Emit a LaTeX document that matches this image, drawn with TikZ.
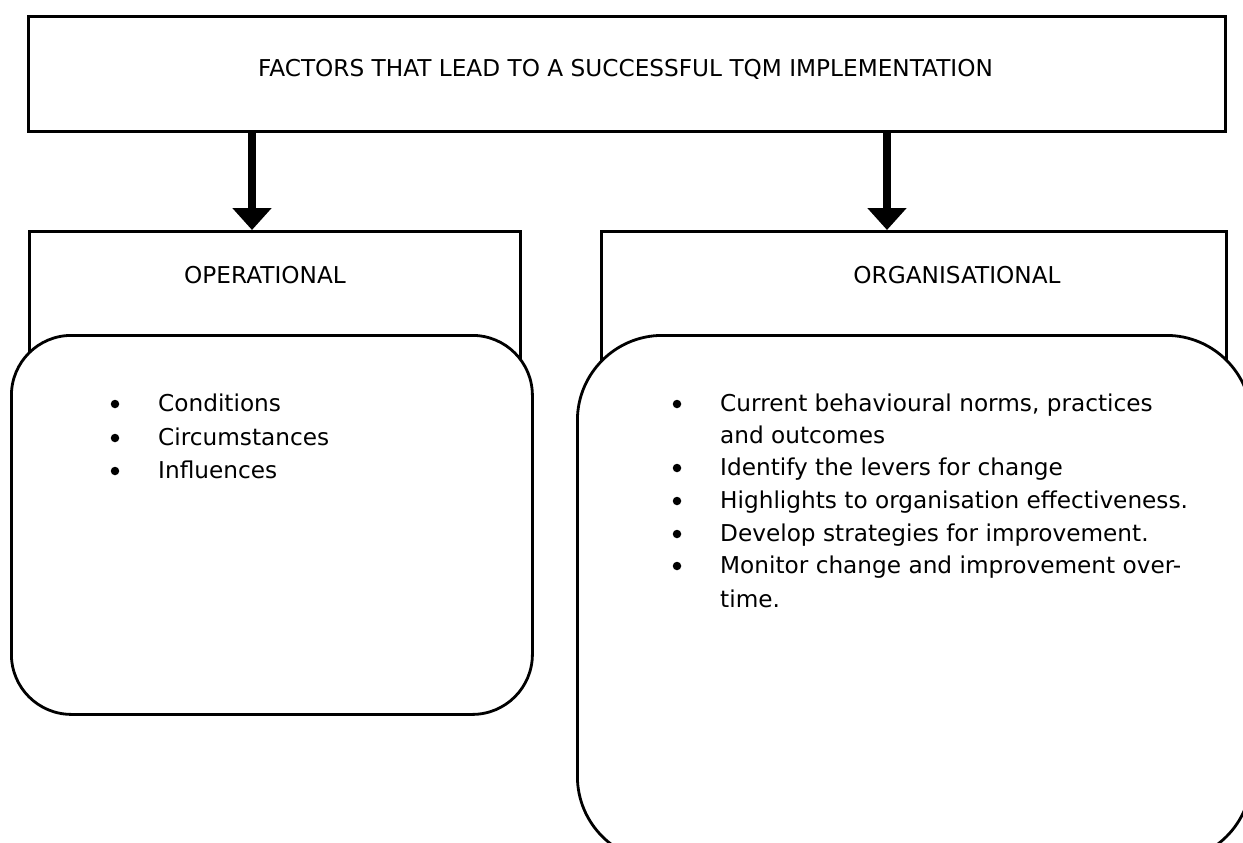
\documentclass[tikz,border=0pt]{standalone}
\usepackage{fontspec}
\setmainfont{DejaVu Sans}
\usetikzlibrary{arrows.meta}
\tikzset{
  x=1pt, y=-1pt,
  boxline/.style={draw=black, line width=2.8pt},
  squarebox/.style={boxline, fill=white, anchor=north west, inner sep=0pt},
  roundbox/.style={boxline, fill=white, anchor=north west, inner sep=0pt},
  txt/.style={anchor=base, inner sep=0pt, font=\fontsize{23.2}{33}\selectfont},
  item/.style={anchor=base west, inner sep=0pt, font=\fontsize{23.2}{33}\selectfont},
  bigarrow/.style={line width=7.8pt, -{Triangle[width=38pt,length=22pt]}},
  dot/.style={circle, fill=black, inner sep=0pt, minimum size=8.5pt}
}
\begin{document}
\begin{tikzpicture}
\useasboundingbox (0,0) rectangle (1243,843);
\clip (0,0) rectangle (1243,843);
\fill[white] (0,0) rectangle (1243,843);

% title box
\node[squarebox, minimum width=1197pt, minimum height=115pt] (top) at (27,15) {};
\node[txt] (toptext) at (625.5,77) {FACTORS THAT LEAD TO A SUCCESSFUL TQM IMPLEMENTATION};

% square header boxes
\node[squarebox, minimum width=491pt, minimum height=200pt] (opsq) at (28,230) {};
\node[squarebox, minimum width=625pt, minimum height=200pt] (orgsq) at (600,230) {};

% arrows
\coordinate (aL) at (252,0);
\coordinate (aR) at (887,0);
\draw[bigarrow] (top.south -| aL) -- (opsq.north -| aL);
\draw[bigarrow] (top.south -| aR) -- (orgsq.north -| aR);

% header texts
\node[txt] (optext) at (265,283) {OPERATIONAL};
\node[txt] (orgtext) at (957,283) {ORGANISATIONAL};

% rounded boxes
\node[roundbox, rounded corners=60pt, minimum width=521pt, minimum height=379pt] (oprd) at (10,334) {};
\node[roundbox, rounded corners=85pt, minimum width=674pt, minimum height=526pt] (orgrd) at (576,334) {};

% left list
\node[dot] (lb1) at (115,404) {};
\node[dot] (lb2) at (115,438) {};
\node[dot] (lb3) at (115,471) {};
\node[item] (li1) at (158,411) {Conditions};
\node[item] (li2) at (158,445) {Circumstances};
\node[item] (li3) at (158,478) {Influences};

% right list
\node[dot] (rb1) at (677,404) {};
\node[dot] (rb2) at (677,468) {};
\node[dot] (rb3) at (677,501) {};
\node[dot] (rb4) at (677,534) {};
\node[dot] (rb5) at (677,566) {};
\node[item] (ri1) at (720,411) {Current behavioural norms, practices};
\node[item] (ri1b) at (720,443) {and outcomes};
\node[item] (ri2) at (720,475) {Identify the levers for change};
\node[item] (ri3) at (720,508) {Highlights to organisation effectiveness.};
\node[item] (ri4) at (720,541) {Develop strategies for improvement.};
\node[item] (ri5) at (720,573) {Monitor change and improvement over-};
\node[item] (ri5b) at (720,607) {time.};
\end{tikzpicture}
\end{document}
